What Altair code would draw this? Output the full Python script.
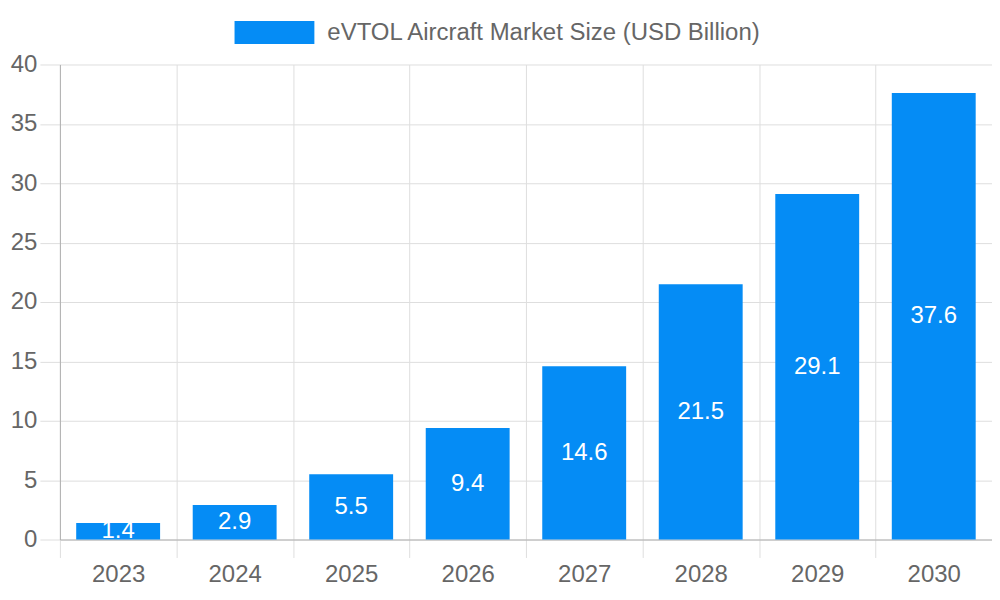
import altair as alt
import pandas as pd

years = ["2023", "2024", "2025", "2026", "2027", "2028", "2029", "2030"]
values = [1.4, 2.9, 5.5, 9.4, 14.6, 21.5, 29.1, 37.6]
series_name = "eVTOL Aircraft Market Size (USD Billion)"

df = pd.DataFrame({"year": years, "value": values, "series": series_name})

FONT = "Liberation Sans"
TEXT = "#666666"
GRID = "#dedede"
AXIS = "#b0b0b0"
BAR = "#058cf5"
FS = 24

x = alt.X(
    "year:N",
    title=None,
    sort=years,
    scale=alt.Scale(paddingInner=0, paddingOuter=0),
    axis=alt.Axis(
        labelAngle=0,
        tickBand="extent",
        grid=True,
        gridColor=GRID,
        tickColor=GRID,
        tickSize=18,
        domainColor=AXIS,
        labelFontSize=FS,
        labelColor=TEXT,
        labelFont=FONT,
        labelPadding=5,
    ),
)

bars = alt.Chart(df).mark_bar(color=BAR, width={"band": 0.72}).encode(
    x=x,
    y=alt.Y(
        "value:Q",
        title=None,
        scale=alt.Scale(domain=[0, 40], nice=False),
        axis=alt.Axis(
            values=[0, 5, 10, 15, 20, 25, 30, 35, 40],
            gridColor=GRID,
            tickColor=GRID,
            tickSize=20,
            domainColor=AXIS,
            labelFontSize=FS,
            labelColor=TEXT,
            labelFont=FONT,
            labelPadding=3,
        ),
    ),
    color=alt.Color(
        "series:N",
        scale=alt.Scale(range=[BAR]),
        legend=alt.Legend(
            title=None,
            orient="none",
            legendX=175,
            legendY=-72,
            symbolType="M-1,-0.2875H1V0.2875H-1Z",
            symbolSize=6400,
            symbolStrokeWidth=0,
            symbolOpacity=1,
            labelFontSize=FS,
            labelColor=TEXT,
            labelFont=FONT,
            labelOffset=13,
            padding=0,
            labelLimit=600,
        ),
    ),
)

labels = alt.Chart(df).transform_calculate(mid="datum.value / 2").mark_text(
    color="white", fontSize=FS, font=FONT, baseline="middle", align="center"
).encode(
    x=alt.X("year:N", sort=years),
    y=alt.Y("mid:Q"),
    text=alt.Text("value:Q", format=".1f"),
)

chart = (
    alt.layer(bars, labels)
    .properties(
        width=934,
        height=476,
        autosize="none",
        padding={"left": 52, "top": 56, "right": 0, "bottom": 56},
    )
    .configure_view(stroke=None)
)

chart.save("out.html", embed_options={"renderer": "svg", "actions": False})
